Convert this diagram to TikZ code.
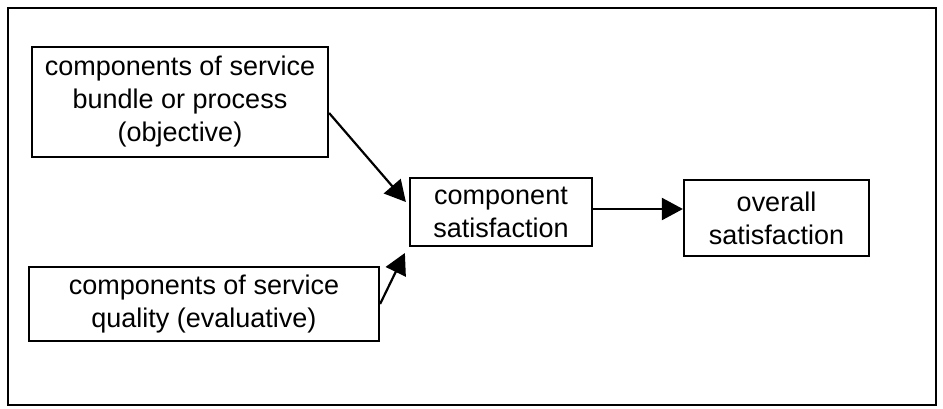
\documentclass[tikz,border=0pt]{standalone}
\usepackage{fontspec}
\setmainfont{Liberation Sans}
\usetikzlibrary{arrows.meta}
\begin{document}
\begin{tikzpicture}[x=1pt,y=-1pt,
  box/.style={draw,line width=2.2pt,inner sep=0pt,align=center,font=\fontsize{27}{33}\selectfont},
  arr/.style={line width=2.2pt,-{Triangle[length=21pt,width=22pt]}}]
\useasboundingbox (0,0) rectangle (943,408);
\draw[line width=2.2pt] (8,8) rectangle (936,405);
\node[box,minimum width=296pt,minimum height=110pt] (b1) at (180,102) {components of service\\bundle or process\\(objective)};
\node[box,minimum width=350pt,minimum height=74pt] (b2) at (204,304) {components of service\\quality (evaluative)};
\node[box,minimum width=182pt,minimum height=68pt] (b3) at (501,212) {component\\satisfaction};
\node[box,minimum width=185pt,minimum height=76pt] (b4) at (776.5,218) {overall\\satisfaction};
\coordinate (s3) at ([yshift=3pt]b3.east);
\draw[arr] ([yshift=-11pt]b1.east) -- ([xshift=-3pt,yshift=10pt]b3.west);
\draw[arr] (b2.east) -- ([xshift=-4pt,yshift=-41pt]b3.west);
\draw[arr] (s3) -- (s3 -| b4.west);
\end{tikzpicture}
\end{document}
